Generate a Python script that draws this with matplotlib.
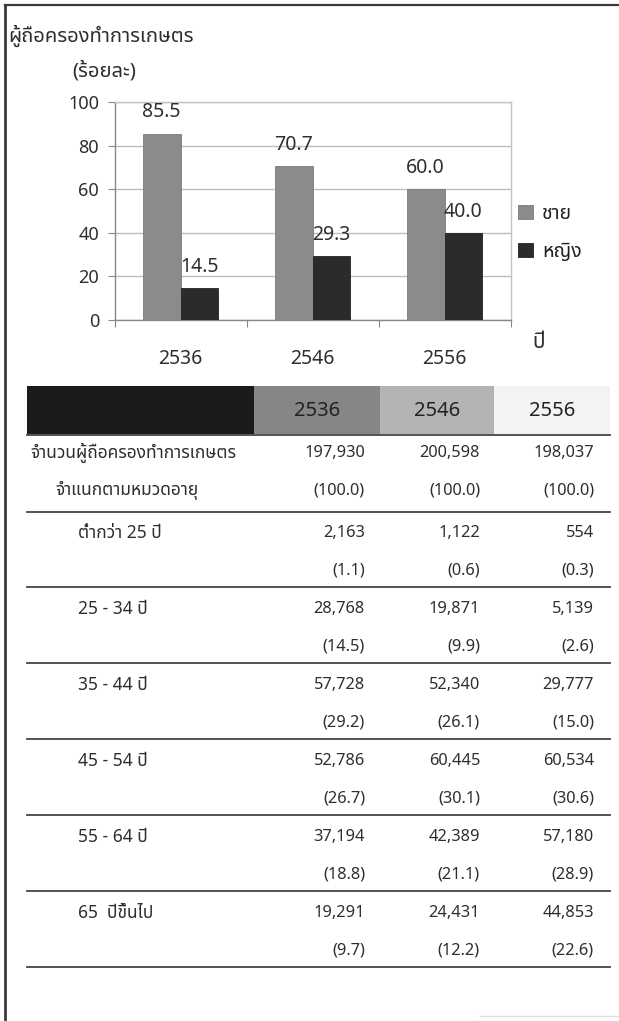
import numpy as np
import matplotlib
matplotlib.use('Agg')
import matplotlib.pyplot as plt
from matplotlib import font_manager
from matplotlib.ft2font import FT2Font
from matplotlib.patches import Rectangle

# ---------------- data ----------------
years = ['2536', '2546', '2556']
male_pct = [85.5, 70.7, 60.0]
female_pct = [14.5, 29.3, 40.0]
series_names = ['ชาย', 'หญิง']
y_ticks = [0, 20, 40, 60, 80, 100]

title_text = 'ผู้ถือครองทำการเกษตร'
unit_text = '(ร้อยละ)'
xaxis_text = 'ปี'

total_labels = ['จำนวนผู้ถือครองทำการเกษตร', 'จำแนกตามหมวดอายุ']
total_counts = [197930, 200598, 198037]
total_pct = [100.0, 100.0, 100.0]

age_groups = ['ต่ำกว่า 25 ปี', '25 - 34 ปี', '35 - 44 ปี',
              '45 - 54 ปี', '55 - 64 ปี', '65  ปีขึ้นไป']
counts_2536 = [2163, 28768, 57728, 52786, 37194, 19291]
counts_2546 = [1122, 19871, 52340, 60445, 42389, 24431]
counts_2556 = [554, 5139, 29777, 60534, 57180, 44853]
pct_2536 = [1.1, 14.5, 29.2, 26.7, 18.8, 9.7]
pct_2546 = [0.6, 9.9, 26.1, 30.1, 21.1, 12.2]
pct_2556 = [0.3, 2.6, 15.0, 30.6, 28.9, 22.6]


# ---------------- font with Thai glyphs ----------------
def find_thai_font():
    prefs = ['Tahoma', 'Noto Sans Thai', 'Noto Sans Thai UI', 'Loma', 'Garuda',
             'Waree', 'Sarabun', 'Umpush', 'Norasi', 'Kinnari', 'FreeSans',
             'Arial Unicode MS']
    names = {f.name for f in font_manager.fontManager.ttflist}
    for p in prefs:
        if p in names:
            return p
    for f in font_manager.fontManager.ttflist:
        try:
            cm = FT2Font(f.fname).get_charmap()
            if 0x0E01 in cm and 0x0E49 in cm:
                return f.name
        except Exception:
            pass
    return None


thai = find_thai_font()
fam = [thai, 'DejaVu Sans'] if thai else ['DejaVu Sans']
plt.rcParams['font.family'] = fam

W, H = 619, 1021
fig = plt.figure(figsize=(W / 100, H / 100), dpi=100)
fig.patch.set_facecolor('white')

TXT = '#2e2e2e'

# ---------------- background/page axes (pixel coords) ----------------
pg = fig.add_axes([0, 0, 1, 1])
pg.set_xlim(0, W)
pg.set_ylim(H, 0)
pg.axis('off')
pg.set_zorder(0)

# page frame
pg.plot([5, 5], [5, H], color='#3a3a3a', lw=2.0)
pg.plot([5, W], [5, 5], color='#3a3a3a', lw=1.6)
pg.plot([480, W], [1016, 1016], color='#dddddd', lw=1.0)

pg.text(8, 36, title_text, fontsize=14.5, color=TXT, va='center', ha='left')
pg.text(72, 71, unit_text, fontsize=14.5, color=TXT, va='center', ha='left')
pg.text(539, 342, xaxis_text, fontsize=15, color=TXT, va='center', ha='center')

# ---------------- bar chart ----------------
ax_l, ax_r, ax_t, ax_b = 114.5, 510.5, 102, 320
ax = fig.add_axes([ax_l / W, 1 - ax_b / H, (ax_r - ax_l) / W, (ax_b - ax_t) / H])
ax.set_zorder(2)
ax.patch.set_alpha(0)

x = np.arange(len(years))
w = 0.285
b1 = ax.bar(x - w / 2, male_pct, w, color='#8b8b8b', edgecolor='#7a7a7a', lw=0.6,
            label=series_names[0], zorder=3)
b2 = ax.bar(x + w / 2, female_pct, w, color='#2b2b2b', edgecolor='#222222', lw=0.6,
            label=series_names[1], zorder=3)
for bars in (b1, b2):
    for r in bars:
        ax.annotate(f'{r.get_height():.1f}', (r.get_x() + r.get_width() / 2, r.get_height()),
                    xytext=(0, 8), textcoords='offset points', ha='center', va='bottom',
                    fontsize=14, color=TXT)

ax.set_xlim(-0.5, len(years) - 0.5)
ax.set_ylim(0, 100)
ax.set_yticks(y_ticks)
ax.yaxis.grid(True, color='#bdbdbd', lw=1.0, zorder=0)
ax.set_axisbelow(True)
ax.tick_params(axis='y', labelsize=13, colors=TXT, length=5, width=0.8, pad=6,
               color='#888888')
ax.set_xticks(x)
ax.set_xticklabels(years)
ax.set_xticks(np.arange(len(years) + 1) - 0.5, minor=True)
ax.tick_params(axis='x', which='major', length=0, labelsize=14, colors=TXT, pad=21)
ax.tick_params(axis='x', which='minor', length=5, width=0.8, color='#888888')
for s in ('top', 'right'):
    ax.spines[s].set_color('#c4c4c4')
    ax.spines[s].set_linewidth(1.0)
for s in ('left', 'bottom'):
    ax.spines[s].set_color('#888888')
    ax.spines[s].set_linewidth(1.0)

leg = ax.legend(loc='center left', bbox_to_anchor=(1.02, 0.40), frameon=False,
                fontsize=14, handlelength=0.75, handleheight=0.75, handletextpad=0.45,
                labelspacing=0.95, borderaxespad=0, borderpad=0)
for t in leg.get_texts():
    t.set_color('#222222')

# ---------------- table ----------------
tl, tr = 27, 610
col_right = [365, 480, 594]
col_edges = [254, 380, 494, 610]
head_cols = ['#1b1b1b', '#868686', '#b4b4b4', '#f3f3f3']
head_top, head_bot = 386, 434

pg.add_patch(Rectangle((tl, head_top), col_edges[0] - tl, head_bot - head_top,
                       facecolor=head_cols[0], edgecolor='none'))
for i, yr in enumerate(years):
    x0, x1 = col_edges[i], col_edges[i + 1]
    pg.add_patch(Rectangle((x0, head_top), x1 - x0, head_bot - head_top,
                           facecolor=head_cols[i + 1], edgecolor='none'))
    pg.text((x0 + x1) / 2, (head_top + head_bot) / 2 + 1, yr, fontsize=14.5,
            color='#222222', ha='center', va='center')
pg.plot([tl, tr], [head_bot + 1, head_bot + 1], color='#444444', lw=1.3)

NS = 11.8   # numbers
LS = 12.5   # row labels
y_tot = 453
pg.text(30, y_tot, total_labels[0], fontsize=LS, color=TXT, va='center', ha='left')
pg.text(55, y_tot + 37, total_labels[1], fontsize=LS, color=TXT, va='center', ha='left')
for j in range(3):
    pg.text(col_right[j], y_tot, f'{total_counts[j]:,}', fontsize=NS, color=TXT,
            va='center', ha='right')
    pg.text(col_right[j], y_tot + 37, f'({total_pct[j]:.1f})', fontsize=NS, color=TXT,
            va='center', ha='right')
pg.plot([tl, tr], [512, 512], color='#444444', lw=1.3)

counts = [counts_2536, counts_2546, counts_2556]
pcts = [pct_2536, pct_2546, pct_2556]
step = 76
for i, lab in enumerate(age_groups):
    yc = 533 + step * i
    pg.text(78, yc, lab, fontsize=LS, color=TXT, va='center', ha='left')
    for j in range(3):
        pg.text(col_right[j], yc, f'{counts[j][i]:,}', fontsize=NS, color=TXT,
                va='center', ha='right')
        pg.text(col_right[j], yc + 37, f'({pcts[j][i]:.1f})', fontsize=NS, color=TXT,
                va='center', ha='right')
    pg.plot([tl, tr], [yc + 54, yc + 54], color='#444444', lw=1.3)

fig.savefig('out.png', dpi=100, facecolor='white')
